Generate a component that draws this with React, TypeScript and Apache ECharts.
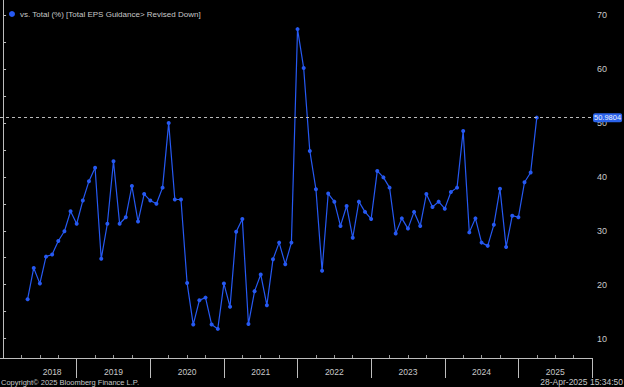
import { useEffect, useRef } from "react";
import * as echarts from "echarts";

const SERIES_NAME = "vs. Total (%) [Total EPS Guidance> Revised Down]";
const FIRST_YEAR = 2018;
const FIRST_MONTH = 4; // April 2018 month-end
const YEARS = [2018, 2019, 2020, 2021, 2022, 2023, 2024, 2025];
const VALUES = [
  17.3, 23.1, 20.2, 25.2, 25.6, 28.1, 29.9, 33.6, 31.3, 35.6, 39.2, 41.7, 24.8, 31.3, 42.9, 31.3, 32.5, 38.3, 31.7, 36.8,
  35.6, 35.0, 38.0, 50.0, 35.8, 35.8, 20.3, 12.6, 17.1, 17.6, 12.6, 11.8, 20.2, 15.9, 29.8, 32.2, 12.7, 18.8, 21.9, 16.2, 24.7,
  27.8, 23.8, 27.8, 67.4, 60.2, 44.8, 37.7, 22.6, 36.9, 35.4, 30.9, 34.6, 28.7, 35.4, 33.5, 32.2, 41.1, 39.9, 38.0, 29.5,
  32.3, 30.4, 33.5, 30.9, 36.8, 34.4, 35.4, 34.1, 37.2, 38.0, 48.5, 29.7, 32.3, 27.8, 27.2, 31.1, 37.8, 27.0, 32.8, 32.5, 39.0, 40.8, 50.9804,
];
const LAST_LABEL = "50.9804";
const Y_LABELS = [10, 20, 30, 40, 50, 60, 70];
const Y_TICKS = [10, 15, 20, 25, 30, 35, 40, 45, 50, 55, 60, 65, 70];
const COPYRIGHT = "Copyright\u00a9 2025 Bloomberg Finance L.P.";
const TIMESTAMP = "28-Apr-2025 15:34:50";

const BLUE = "#2659f2";
const TEXT = "#c8c8c8";
const FONT = "'Liberation Sans', Arial, sans-serif";

export default function App() {
  const ref = useRef<HTMLDivElement>(null);
  useEffect(() => {
    if (!ref.current) return;
    const chart = echarts.init(ref.current, undefined, { renderer: "svg" });
    const data = VALUES.map((v, i) => [FIRST_MONTH + i, v]);
    const firstX = FIRST_MONTH;
    const xMin = -0.5;
    const xMax = YEARS.length * 12;
    const yearStarts = YEARS.slice(1).map((_, i) => (i + 1) * 12).concat([xMax]);
    const yearLabelPos = YEARS.map((_, i) => {
      const s = Math.max(i * 12, firstX);
      const e = (i + 1) * 12;
      return (s + e) / 2;
    });
    const quarterTicks: number[] = [];
    for (let m = 3; m < xMax; m += 3) if (m % 12 !== 0) quarterTicks.push(m);

    chart.setOption({
      animation: false,
      backgroundColor: "#000000",
      textStyle: { fontFamily: FONT },
      legend: {
        left: 4,
        top: 5,
        itemWidth: 6,
        itemHeight: 6,
        itemGap: 6,
        icon: "circle",
        textStyle: { color: TEXT, fontSize: 8, fontFamily: FONT },
        data: [SERIES_NAME],
      },
      title: [
        {
          text: COPYRIGHT,
          left: 0,
          bottom: 0,
          padding: [0, 0, 1, 1],
          textStyle: { color: TEXT, fontSize: 7.5, fontWeight: "normal", fontFamily: FONT },
        },
        {
          text: TIMESTAMP,
          right: 0,
          bottom: 0,
          padding: [0, 1, 1, 0],
          textStyle: { color: TEXT, fontSize: 8.5, fontWeight: "normal", fontFamily: FONT },
        },
      ],
      grid: { left: 0, right: 32, top: 0, bottom: 29, containLabel: false },
      xAxis: [
        {
          type: "value",
          min: xMin,
          max: xMax,
          position: "bottom",
          axisLine: { show: true, lineStyle: { color: "#bdbdbd", width: 1 } },
          axisTick: {
            show: true,
            inside: false,
            length: 20,
            customValues: yearStarts,
            lineStyle: { color: "#bdbdbd", width: 1 },
          },
          axisLabel: {
            show: true,
            customValues: yearLabelPos,
            formatter: (v: number) => String(FIRST_YEAR + Math.floor(v / 12)),
            color: TEXT,
            fontSize: 8.5,
            margin: 9,
            fontFamily: FONT,
          },
          splitLine: { show: false },
        },
        {
          type: "value",
          min: xMin,
          max: xMax,
          position: "bottom",
          axisLine: { show: false },
          axisTick: {
            show: true,
            inside: true,
            length: 3,
            customValues: quarterTicks,
            lineStyle: { color: "#9a9a9a", width: 1 },
          },
          axisLabel: { show: false },
          splitLine: { show: false },
        },
      ],
      yAxis: {
        type: "value",
        position: "right",
        min: 6.4,
        max: 72.8,
        axisLine: { show: true, lineStyle: { color: "#bdbdbd", width: 1 } },
        axisTick: {
          show: true,
          inside: false,
          length: 3,
          customValues: Y_TICKS,
          lineStyle: { color: "#bdbdbd" },
        },
        axisLabel: {
          show: true,
          customValues: Y_LABELS,
          color: TEXT,
          fontSize: 9,
          margin: 5,
          fontFamily: FONT,
        },
        splitLine: { show: false },
      },
      series: [
        {
          name: SERIES_NAME,
          type: "line",
          xAxisIndex: 0,
          data,
          symbol: "circle",
          symbolSize: 4,
          showSymbol: true,
          itemStyle: { color: BLUE },
          lineStyle: { color: BLUE, width: 1.2 },
          markLine: {
            silent: true,
            symbol: ["none", "none"],
            lineStyle: { color: "#bbbbbb", type: [3, 3], width: 1 },
            label: {
              show: true,
              position: "end",
              distance: 1,
              formatter: LAST_LABEL,
              color: "#eef2ff",
              backgroundColor: "#2b63ea",
              borderRadius: 2,
              padding: [1, 1, 0, 1],
              fontSize: 7.5,
              fontFamily: FONT,
            },
            data: [{ yAxis: VALUES[VALUES.length - 1] }],
          },
        },
      ],
    });
    return () => chart.dispose();
  }, []);
  return (
    <div
      ref={ref}
      style={{ position: "fixed", left: 0, top: 0, width: 624, height: 387 }}
    />
  );
}
